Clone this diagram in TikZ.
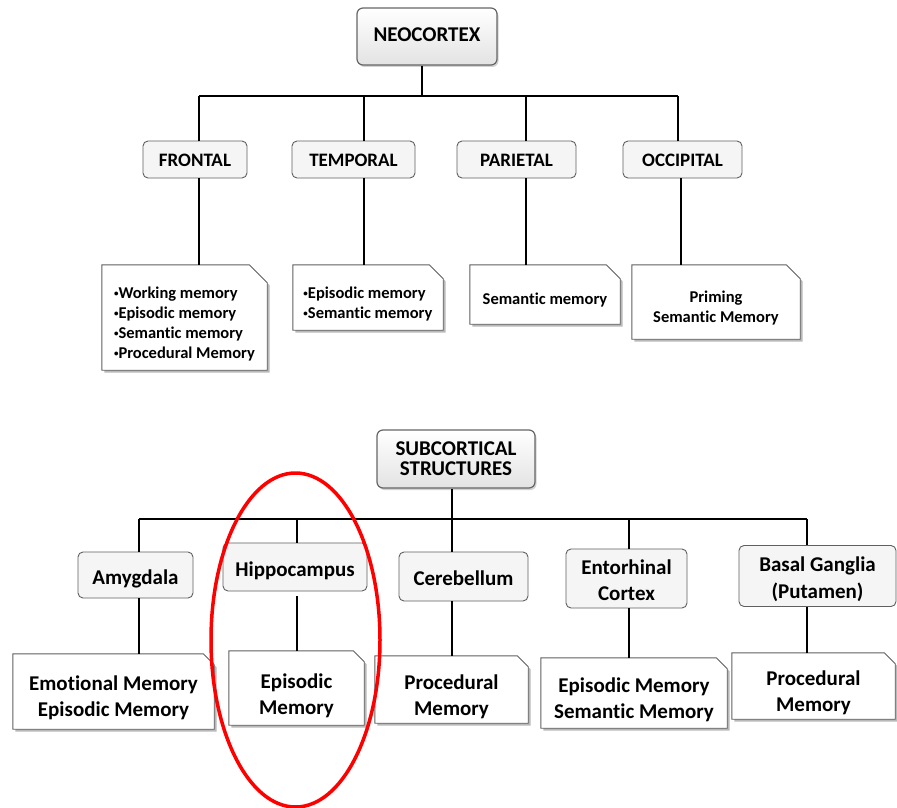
\documentclass[tikz,border=0pt]{standalone}
\usepackage{fontspec}
\setmainfont{Carlito}[Ligatures=CommonOff]
\usetikzlibrary{shadows,backgrounds}
\newcommand{\leafdraw}[2]{%
  \fill[gray!55] ([shift={(2.5pt,-2.5pt)}]#1.south west) -- ([shift={(2.5pt,-2.5pt)}]#1.north west) -- ([shift={(2.5pt-#2,-2.5pt)}]#1.north east) -- ([shift={(2.5pt,-2.5pt-#2)}]#1.north east) -- ([shift={(2.5pt,-2.5pt)}]#1.south east) -- cycle;
  \filldraw[fill=white, draw=gray!75!black, line width=0.9pt] (#1.south west) -- (#1.north west) -- ([xshift=-#2]#1.north east) -- ([yshift=-#2]#1.north east) -- (#1.south east) -- cycle;}
\newcommand{\bul}{\raisebox{0.3ex}{\fontsize{9}{9}\selectfont•}}
\newcommand{\hr}[1]{\rule{0pt}{#1pt}}
\newcommand{\dr}[1]{\rule[-#1pt]{0pt}{0pt}}
\begin{document}
\begin{tikzpicture}[x=1pt,y=-1pt,
  topbox/.style={draw=gray!80!black, line width=1.2pt, rounded corners=6pt, top color=white, bottom color=gray!22, drop shadow={shadow xshift=1.5pt, shadow yshift=-2pt, fill=gray!70}, font=\bfseries\fontsize{21}{20}\selectfont, align=center, inner sep=0pt},
  midbox/.style={draw=gray!75!black, line width=0.9pt, rounded corners=5pt, fill=gray!8, font=\bfseries\fontsize{19}{22}\selectfont, align=center, inner sep=0pt},
  lowbox/.style={midbox, font=\bfseries\fontsize{21}{26}\selectfont},
  leaf/.style={inner sep=0pt, font=\bfseries\fontsize{16.5}{20}\selectfont},
  bigleaf/.style={inner sep=0pt, font=\bfseries\fontsize{21}{26}\selectfont, align=center},
  conn/.style={line width=1.5pt, black}]
\useasboundingbox (0,0) rectangle (897,808);

% ---------- Neocortex ----------
\node[topbox, minimum width=140pt, minimum height=57pt] (neo) at (427,36.5) {\hr{19}NEOCORTEX\dr{8}};
\node[midbox, minimum width=104pt, minimum height=37pt] (fro) at (195,159.5) {\hr{21}FRONTAL\dr{8}};
\node[midbox, minimum width=123pt, minimum height=37pt] (tem) at (353.5,159.5) {\hr{21}TEMPORAL\dr{8}};
\node[midbox, minimum width=119pt, minimum height=37pt] (par) at (516.5,159.5) {\hr{21}PARIETAL\dr{8}};
\node[midbox, minimum width=119pt, minimum height=37pt] (occ) at (682.5,159.5) {\hr{21}OCCIPITAL\dr{8}};

\node[leaf, align=left, minimum width=165pt, minimum height=105pt] (fl) at (184.5,317.5) {\hr{29}\bul Working memory\\\bul Episodic memory\\\bul Semantic memory\\\bul Procedural Memory\dr{7}};
\node[leaf, align=left, minimum width=150pt, minimum height=65pt] (tl) at (368,297.5) {\hr{29}\bul Episodic memory\\\bul Semantic memory\dr{7}};
\node[leaf, align=center, minimum width=150pt, minimum height=59pt] (pl) at (545,294.5) {\hr{27}Semantic memory\dr{7}};
\node[leaf, align=center, minimum width=168pt, minimum height=74pt] (ol) at (716,302) {\hr{28}Priming\\Semantic Memory\dr{7}};

\coordinate (nb) at (422,96);
\coordinate (b1) at (199,96);
\coordinate (b2) at (364,96);
\coordinate (b3) at (526,96);
\coordinate (b4) at (678,96);
\coordinate (b4l) at (681,96);

\draw[conn] (nb |- neo.south) -- (nb);
\draw[conn] (b1) -- (b4);
\draw[conn] (b1) -- (b1 |- fro.north);
\draw[conn] (b2) -- (b2 |- tem.north);
\draw[conn] (b3) -- (b3 |- par.north);
\draw[conn] (b4) -- (b4 |- occ.north);
\draw[conn] (b1 |- fro.south) -- (b1 |- fl.north);
\draw[conn] (b2 |- tem.south) -- (b2 |- tl.north);
\draw[conn] (b3 |- par.south) -- (b3 |- pl.north);
\draw[conn] (b4l |- occ.south) -- (b4l |- ol.north);

% ---------- Subcortical ----------
\node[topbox, minimum width=158pt, minimum height=58pt] (sub) at (456,459) {\hr{20}SUBCORTICAL\\STRUCTURES\dr{8}};
\node[lowbox, minimum width=115pt, minimum height=46pt] (amy) at (135.5,575) {\hr{26}Amygdala\dr{8}};
\node[lowbox, minimum width=144pt, minimum height=48pt] (hip) at (295,567) {\hr{26}Hippocampus\dr{8}};
\node[lowbox, minimum width=129pt, minimum height=49pt] (cer) at (463.5,576.5) {\hr{25}Cerebellum\dr{8}};
\node[lowbox, minimum width=121pt, minimum height=53pt] (ent) at (626.5,578.5) {\hr{25}Entorhinal\\Cortex\dr{8}};
\node[lowbox, minimum width=157pt, minimum height=50pt, font=\bfseries\fontsize{21}{27}\selectfont] (bas) at (817.5,576) {\hr{26}Basal Ganglia\\(Putamen)\dr{8}};

\node[bigleaf, minimum width=201pt, minimum height=75pt] (al) at (113.5,691.5) {\hr{31}Emotional Memory\\Episodic Memory\dr{8}};
\node[bigleaf, minimum width=135pt, minimum height=74pt] (hl) at (296.5,688) {\hr{34}Episodic\\Memory\dr{8}};
\node[bigleaf, minimum width=153pt, minimum height=65pt] (cl) at (451.5,689.5) {\hr{33}Procedural\\Memory\dr{8}};
\node[bigleaf, minimum width=186pt, minimum height=70pt] (el) at (634,693) {\hr{32}Episodic Memory\\Semantic Memory\dr{8}};
\node[bigleaf, minimum width=163pt, minimum height=64pt] (bl) at (813.5,686) {\hr{32}Procedural\\Memory\dr{8}};

\coordinate (c1) at (139,519);
\coordinate (c2) at (297,519);
\coordinate (c3) at (452,519);
\coordinate (c4) at (629,519);
\coordinate (c5) at (807,519);

\draw[conn] (c3 |- sub.south) -- (c3);
\draw[conn] (c1) -- (c5);
\draw[conn] (c1) -- (c1 |- amy.north);
\draw[conn] (c2) -- (c2 |- hip.north);
\draw[conn] (c3) -- (c3 |- cer.north);
\draw[conn] (c4) -- (c4 |- ent.north);
\draw[conn] (c5) -- (c5 |- bas.north);
\draw[conn] (c1 |- amy.south) -- (c1 |- al.north);
\draw[conn] ([yshift=-5pt]c2 |- hip.south) -- (c2 |- hl.north);
\draw[conn] (c3 |- cer.south) -- (c3 |- cl.north);
\draw[conn] (c4 |- ent.south) -- (c4 |- el.north);
\draw[conn] (c5 |- bas.south) -- (c5 |- bl.north);

\begin{pgfonlayer}{background}
\fill[white] (0,0) rectangle (897,808);
\leafdraw{fl}{18pt}
\leafdraw{tl}{14pt}
\leafdraw{pl}{14pt}
\leafdraw{ol}{14pt}
\leafdraw{al}{11pt}
\leafdraw{hl}{11pt}
\leafdraw{cl}{11pt}
\leafdraw{el}{11pt}
\leafdraw{bl}{11pt}
\end{pgfonlayer}

\draw[red, line width=3.5pt] (295.5,640) ellipse [x radius=84.5, y radius=167];
\end{tikzpicture}
\end{document}
